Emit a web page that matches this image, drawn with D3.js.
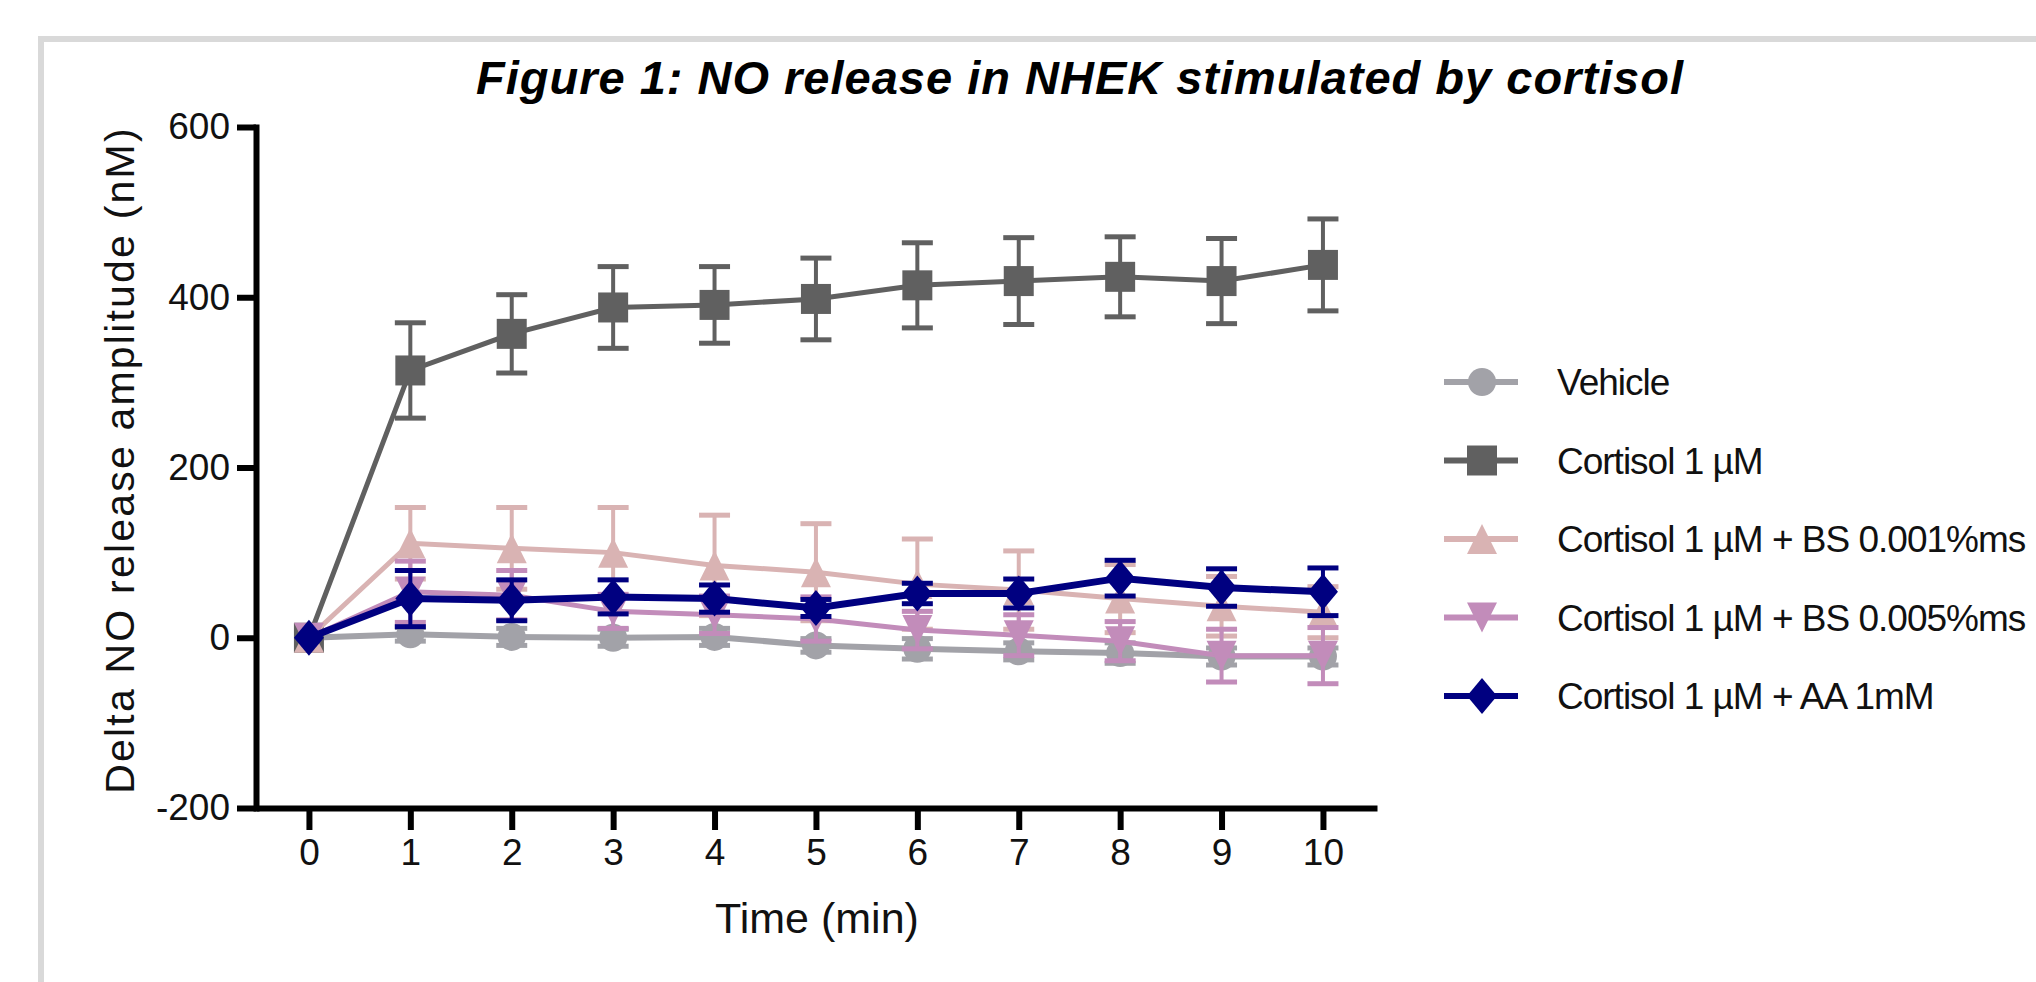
<!DOCTYPE html>
<html>
<head>
<meta charset="utf-8">
<script src="https://cdn.jsdelivr.net/npm/d3@7/dist/d3.min.js"></script>
<style>
  html, body { margin: 0; padding: 0; background: #fff; }
  svg { display: block; }
</style>
</head>
<body>
<svg id="chart" width="2036" height="982"></svg>
<script>
// ---------------- DATA ----------------
const chartTitle = "Figure 1: NO release in NHEK stimulated by cortisol";
const xTitle = "Time (min)";
const yTitle = "Delta NO release amplitude (nM)";
const timePoints = [0, 1, 2, 3, 4, 5, 6, 7, 8, 9, 10];
const xTicks = [0, 1, 2, 3, 4, 5, 6, 7, 8, 9, 10];
const yTicks = [-200, 0, 200, 400, 600];

const seriesNames = [
  "Vehicle",
  "Cortisol 1 µM",
  "Cortisol 1 µM + BS 0.001%ms",
  "Cortisol 1 µM + BS 0.005%ms",
  "Cortisol 1 µM + AA 1mM"
];
const vehicleMean   = [0, 4, 1, 0, 1, -9, -13, -16, -18, -22, -22];
const vehicleErr    = [0, 8, 10, 10, 10, 8, 12, 10, 12, 10, 10];
const cortisolMean  = [0, 314, 357, 388, 391, 398, 414, 419, 424, 419, 438];
const cortisolErr   = [0, 56, 46, 48, 45, 48, 50, 51, 47, 50, 54];
const bs001Mean     = [0, 111, 105, 100, 85, 77, 63, 56, 46, 37, 30];
const bs001Err      = [0, 42, 48, 53, 59, 57, 53, 46, 40, 35, 30];
const bs005Mean     = [0, 54, 50, 31, 27, 22, 9, 3, -4, -21, -21];
const bs005Err      = [0, 36, 29, 20, 22, 26, 22, 24, 23, 31, 33];
const aaMean        = [0, 46, 44, 48, 46, 35, 52, 52, 70, 59, 54];
const aaErr         = [0, 33, 24, 20, 16, 10, 12, 17, 21, 22, 28];

// ---------------- STYLE ----------------
const seriesStyle = [
  { color: "#a2a2a8", symbol: "circle",   lw: 6 },
  { color: "#606060", symbol: "square",   lw: 5 },
  { color: "#d9b3b3", symbol: "triUp",    lw: 5 },
  { color: "#c28cba", symbol: "triDown",  lw: 5 },
  { color: "#000080", symbol: "diamond",  lw: 7 }
];
const means = [vehicleMean, cortisolMean, bs001Mean, bs005Mean, aaMean];
const errs  = [vehicleErr, cortisolErr, bs001Err, bs005Err, aaErr];

const FONT = "'Liberation Sans', Arial, sans-serif";

const svg = d3.select("#chart");

// frame
svg.append("rect")
  .attr("x", 41).attr("y", 39).attr("width", 2100).attr("height", 1100)
  .attr("fill", "none").attr("stroke", "#d9d9d9").attr("stroke-width", 6);

// scales
const x = d3.scaleLinear().domain([-0.522, 10.533]).range([256, 1377]);
const y = d3.scaleLinear().domain([-200, 600]).range([808, 127]);

// title
svg.append("text")
  .attr("x", 1080).attr("y", 94)
  .attr("text-anchor", "middle")
  .attr("font-family", FONT).attr("font-size", 47)
  .attr("font-weight", "bold").attr("font-style", "italic")
  .attr("letter-spacing", 1)
  .attr("fill", "#000")
  .text(chartTitle);

// axes
const fmt = d => String(d);
const yAxis = d3.axisLeft(y).tickValues(yTicks).tickFormat(fmt).tickSize(19).tickSizeOuter(0).tickPadding(7);
const gy = svg.append("g").attr("transform", "translate(256,0)").call(yAxis);
gy.select(".domain").attr("stroke", "#000").attr("stroke-width", 6).attr("stroke-linecap", "square");
gy.selectAll(".tick line").attr("stroke", "#000").attr("stroke-width", 6);
gy.selectAll(".tick text")
  .attr("font-family", FONT).attr("font-size", 37).attr("fill", "#111");

const xAxis = d3.axisBottom(x).tickValues(xTicks).tickFormat(fmt).tickSize(22).tickSizeOuter(0);
const gx = svg.append("g").attr("transform", "translate(0,808)").call(xAxis);
gx.select(".domain").attr("stroke", "#000").attr("stroke-width", 6);
gx.selectAll(".tick line").attr("stroke", "#000").attr("stroke-width", 6);
gx.selectAll(".tick text")
  .attr("y", 57).attr("dy", 0)
  .attr("font-family", FONT).attr("font-size", 37).attr("fill", "#111");

// axis titles
svg.append("text")
  .attr("x", 817).attr("y", 933)
  .attr("text-anchor", "middle")
  .attr("font-family", FONT).attr("font-size", 43).attr("fill", "#111")
  .text(xTitle);

svg.append("text")
  .attr("transform", "translate(134,460) rotate(-90)")
  .attr("text-anchor", "middle")
  .attr("font-family", FONT).attr("font-size", 41).attr("fill", "#111")
  .attr("letter-spacing", 2.2)
  .text(yTitle);

// symbol paths
function symbolPath(type, cx, cy) {
  switch (type) {
    case "circle": {
      const r = 14;
      return `M${cx - r},${cy}a${r},${r} 0 1,0 ${2 * r},0a${r},${r} 0 1,0 ${-2 * r},0Z`;
    }
    case "square": {
      const h = 15;
      return `M${cx - h},${cy - h}H${cx + h}V${cy + h}H${cx - h}Z`;
    }
    case "triUp": {
      const w = 15, h = 15;
      return `M${cx},${cy - h}L${cx + w},${cy + h}L${cx - w},${cy + h}Z`;
    }
    case "triDown": {
      const w = 15, h = 15;
      return `M${cx},${cy + h}L${cx + w},${cy - h}L${cx - w},${cy - h}Z`;
    }
    case "diamond": {
      const w = 15, h = 18;
      return `M${cx},${cy - h}L${cx + w},${cy}L${cx},${cy + h}L${cx - w},${cy}Z`;
    }
  }
}

const line = d3.line().x(d => x(d.t)).y(d => y(d.v));

seriesNames.forEach((name, i) => {
  const st = seriesStyle[i];
  const data = timePoints.map((t, k) => ({ t, v: means[i][k], e: errs[i][k] }));
  const g = svg.append("g").attr("class", "series");

  // error bars
  const eb = g.append("g");
  data.filter(d => d.e > 0).forEach(d => {
    const cx = x(d.t);
    eb.append("line")
      .attr("x1", cx).attr("x2", cx)
      .attr("y1", y(d.v - d.e)).attr("y2", y(d.v + d.e))
      .attr("stroke", st.color).attr("stroke-width", 4);
    [d.v - d.e, d.v + d.e].forEach(val => {
      eb.append("line")
        .attr("x1", cx - 15.5).attr("x2", cx + 15.5)
        .attr("y1", y(val)).attr("y2", y(val))
        .attr("stroke", st.color).attr("stroke-width", 5);
    });
  });

  // line
  g.append("path")
    .datum(data)
    .attr("d", line)
    .attr("fill", "none")
    .attr("stroke", st.color)
    .attr("stroke-width", st.lw)
    .attr("stroke-linejoin", "miter");

  // markers
  g.selectAll("path.marker")
    .data(data)
    .join("path")
    .attr("class", "marker")
    .attr("d", d => symbolPath(st.symbol, x(d.t), y(d.v)))
    .attr("fill", st.color);
});

// legend
const legendX0 = 1444, legendX1 = 1518, legendMarkX = 1482, legendTextX = 1557;
const legendY = d3.scalePoint().domain(seriesNames).range([382, 696]);
const lg = svg.append("g").attr("class", "legend");
seriesNames.forEach((name, i) => {
  const st = seriesStyle[i];
  const cy = legendY(name);
  lg.append("line")
    .attr("x1", legendX0).attr("x2", legendX1)
    .attr("y1", cy).attr("y2", cy)
    .attr("stroke", st.color).attr("stroke-width", 6);
  lg.append("path")
    .attr("d", symbolPath(st.symbol, legendMarkX, cy))
    .attr("fill", st.color);
  lg.append("text")
    .attr("x", legendTextX).attr("y", cy).attr("dy", "0.36em")
    .attr("font-family", FONT).attr("font-size", 37)
    .attr("letter-spacing", -1)
    .attr("fill", "#111")
    .text(name);
});
</script>
</body>
</html>
